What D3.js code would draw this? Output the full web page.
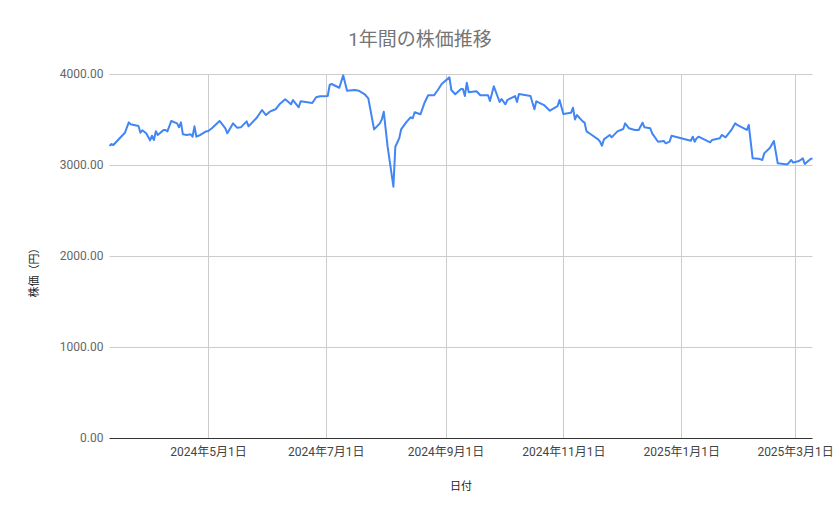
<!DOCTYPE html>
<html>
<head>
<meta charset="utf-8">
<script src="https://cdn.jsdelivr.net/npm/d3@7"></script>
<style>
  body { margin: 0; background: #fff; }
  text { font-family: Roboto, "Noto Sans CJK JP", sans-serif; }
</style>
</head>
<body>
<div id="chart"></div>
<script>
'use strict';

// 日付 (取引日) と終値
const dates = [
  "2024-03-11","2024-03-12","2024-03-13","2024-03-17","2024-03-19","2024-03-21","2024-03-22","2024-03-26",
  "2024-03-27","2024-03-28","2024-03-30","2024-04-01","2024-04-02","2024-04-03","2024-04-04","2024-04-05",
  "2024-04-08","2024-04-09","2024-04-10","2024-04-12","2024-04-15","2024-04-16","2024-04-17","2024-04-18",
  "2024-04-20","2024-04-22","2024-04-23","2024-04-24","2024-04-25","2024-04-27","2024-04-30","2024-05-01",
  "2024-05-03","2024-05-07","2024-05-10","2024-05-11","2024-05-12","2024-05-14","2024-05-16","2024-05-18",
  "2024-05-21","2024-05-22","2024-05-26","2024-05-29","2024-05-31","2024-06-02","2024-06-04","2024-06-05",
  "2024-06-07","2024-06-10","2024-06-13","2024-06-14","2024-06-17","2024-06-18","2024-06-24","2024-06-26",
  "2024-06-28","2024-06-30","2024-07-02","2024-07-03","2024-07-04","2024-07-08","2024-07-10","2024-07-12",
  "2024-07-16","2024-07-18","2024-07-21","2024-07-23","2024-07-26","2024-07-29","2024-07-30","2024-07-31",
  "2024-08-02","2024-08-05","2024-08-06","2024-08-08","2024-08-09","2024-08-12","2024-08-14","2024-08-15",
  "2024-08-16","2024-08-19","2024-08-21","2024-08-23","2024-08-26","2024-08-28","2024-08-30","2024-09-03",
  "2024-09-04","2024-09-06","2024-09-09","2024-09-10","2024-09-11","2024-09-12","2024-09-13","2024-09-17",
  "2024-09-19","2024-09-23","2024-09-24","2024-09-26","2024-09-29","2024-09-30","2024-10-02","2024-10-03",
  "2024-10-07","2024-10-08","2024-10-09","2024-10-15","2024-10-17","2024-10-18","2024-10-22","2024-10-25",
  "2024-10-29","2024-10-30","2024-11-01","2024-11-05","2024-11-06","2024-11-07","2024-11-08","2024-11-11",
  "2024-11-12","2024-11-13","2024-11-15","2024-11-19","2024-11-20","2024-11-21","2024-11-22","2024-11-25",
  "2024-11-26","2024-11-29","2024-12-02","2024-12-03","2024-12-05","2024-12-08","2024-12-10","2024-12-12",
  "2024-12-13","2024-12-16","2024-12-17","2024-12-20","2024-12-23","2024-12-24","2024-12-26","2024-12-27",
  "2025-01-06","2025-01-07","2025-01-08","2025-01-09","2025-01-10","2025-01-16","2025-01-17","2025-01-21",
  "2025-01-22","2025-01-24","2025-01-27","2025-01-29","2025-01-30","2025-01-31","2025-02-04","2025-02-05",
  "2025-02-07","2025-02-10","2025-02-12","2025-02-13","2025-02-16","2025-02-18","2025-02-20","2025-02-24",
  "2025-02-25","2025-02-27","2025-02-28","2025-03-03","2025-03-05","2025-03-06","2025-03-09","2025-03-10"
];

const prices = [
  3210, 3230, 3220, 3311, 3355, 3469, 3447, 3429,
  3355, 3381, 3348, 3271, 3322, 3275, 3370, 3330,
  3385, 3385, 3370, 3484, 3458, 3414, 3469, 3337,
  3330, 3337, 3311, 3425, 3311, 3330, 3370, 3370,
  3403, 3484, 3403, 3348, 3385, 3458, 3410, 3414,
  3480, 3425, 3513, 3604, 3549, 3586, 3604, 3612,
  3667, 3722, 3667, 3714, 3634, 3700, 3681, 3744,
  3755, 3755, 3758, 3879, 3890, 3849, 3985, 3815,
  3824, 3817, 3780, 3733, 3391, 3458, 3501, 3586,
  3201, 2762, 3201, 3293, 3391, 3480, 3524, 3513,
  3579, 3557, 3678, 3766, 3766, 3824, 3890, 3963,
  3824, 3777, 3835, 3835, 3758, 3904, 3799, 3810,
  3766, 3766, 3703, 3865, 3692, 3725, 3667, 3714,
  3758, 3692, 3780, 3758, 3612, 3700, 3659, 3597,
  3648, 3714, 3560, 3575, 3630, 3501, 3549, 3480,
  3465, 3370, 3341, 3282, 3256, 3212, 3282, 3330,
  3304, 3370, 3396, 3458, 3403, 3385, 3385, 3465,
  3414, 3403, 3348, 3256, 3264, 3238, 3256, 3322,
  3267, 3311, 3256, 3293, 3311, 3249, 3275, 3293,
  3330, 3304, 3385, 3458, 3440, 3429, 3385, 3440,
  3073, 3070, 3055, 3128, 3190, 3264, 3018, 3007,
  3007, 3055, 3026, 3044, 3073, 3011, 3066, 3073
];

const xDomain = ["2024-03-11", "2025-03-10"];
const xTicks = ["2024-05-01", "2024-07-01", "2024-09-01", "2024-11-01", "2025-01-01", "2025-03-01"];
const yTicks = [0, 1000, 2000, 3000, 4000];

const title = "1年間の株価推移";
const xTitle = "日付";
const yTitle = "株価（円）";

const parse = d3.timeParse("%Y-%m-%d");
const data = dates.map((d, i) => ({ date: parse(d), price: prices[i] }));

const width = 839,
    height = 519;
const margin = ({ top: 74, right: 26.5, bottom: 81, left: 109.5 });

const svg = d3.select("#chart").append("svg")
    .attr("width", width)
    .attr("height", height);

const x = d3.scaleTime()
    .domain(xDomain.map(parse))
    .range([margin.left, width - margin.right]);

const y = d3.scaleLinear()
    .domain([0, 4000])
    .range([height - margin.bottom, margin.top]);

// horizontal grid
svg.append("g")
    .selectAll("line")
    .data(yTicks.filter(d => d > 0))
    .enter().append("line")
    .attr("x1", margin.left)
    .attr("x2", width - margin.right)
    .attr("y1", d => Math.round(y(d)) + 0.5)
    .attr("y2", d => Math.round(y(d)) + 0.5)
    .attr("stroke", "#cccccc")
    .attr("stroke-width", 1);

// vertical grid
svg.append("g")
    .selectAll("line")
    .data(xTicks.map(parse))
    .enter().append("line")
    .attr("x1", d => Math.round(x(d)) + 0.5)
    .attr("x2", d => Math.round(x(d)) + 0.5)
    .attr("y1", margin.top)
    .attr("y2", height - margin.bottom)
    .attr("stroke", "#cccccc")
    .attr("stroke-width", 1);

// y axis labels
const yAxis = d3.axisLeft(y)
    .tickValues(yTicks)
    .tickFormat(d3.format(".2f"))
    .tickSize(0)
    .tickPadding(6);

svg.append("g")
    .attr("transform", `translate(${margin.left},0)`)
    .call(yAxis)
    .call(g => g.select(".domain").remove())
    .selectAll("text")
    .attr("fill", "#666666")
    .style("font-size", "12px");

// x axis labels
const xAxis = d3.axisBottom(x)
    .tickValues(xTicks.map(parse))
    .tickFormat(d3.timeFormat("%Y年%-m月%-d日"))
    .tickSize(0)
    .tickPadding(9);

svg.append("g")
    .attr("transform", `translate(0,${height - margin.bottom})`)
    .call(xAxis)
    .call(g => g.select(".domain").remove())
    .selectAll("text")
    .attr("fill", "#444444")
    .style("font-size", "12px");

// baseline
svg.append("line")
    .attr("x1", margin.left)
    .attr("x2", width - margin.right)
    .attr("y1", Math.round(y(0)) + 0.5)
    .attr("y2", Math.round(y(0)) + 0.5)
    .attr("stroke", "#333333")
    .attr("stroke-width", 1);

// price line
const line = d3.line()
    .x(d => x(d.date))
    .y(d => y(d.price));

svg.append("path")
    .datum(data)
    .attr("fill", "none")
    .attr("stroke", "#4285f4")
    .attr("stroke-width", 2)
    .attr("stroke-linejoin", "round")
    .attr("d", line);

// titles
svg.append("text")
    .attr("x", 420)
    .attr("y", 46)
    .attr("text-anchor", "middle")
    .attr("fill", "#757575")
    .style("font-size", "19px")
    .text(title);

svg.append("text")
    .attr("x", (margin.left + width - margin.right) / 2)
    .attr("y", 490)
    .attr("text-anchor", "middle")
    .attr("fill", "#222222")
    .style("font-size", "11px")
    .text(xTitle);

svg.append("text")
    .attr("transform", "translate(38,270) rotate(-90)")
    .attr("text-anchor", "middle")
    .attr("fill", "#222222")
    .style("font-size", "11px")
    .text(yTitle);
</script>
</body>
</html>
